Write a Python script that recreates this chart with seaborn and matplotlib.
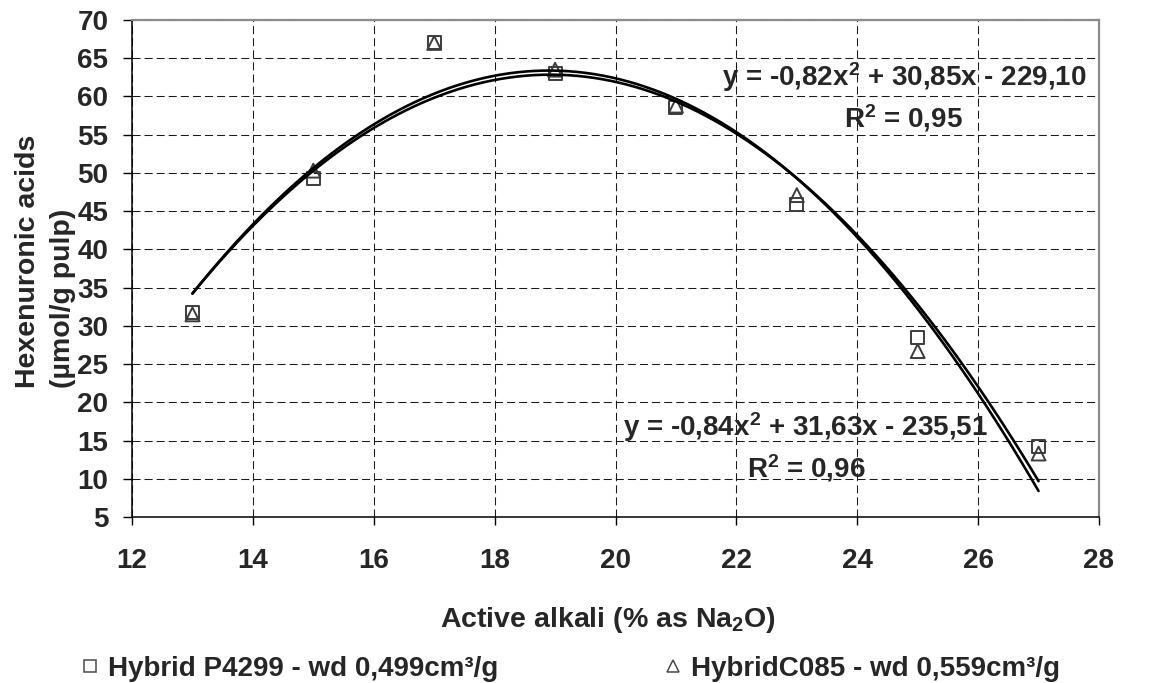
import matplotlib
matplotlib.use("Agg")
import matplotlib.pyplot as plt
import seaborn as sns
from matplotlib.lines import Line2D

# Active alkali charge (% as Na2O) and hexenuronic acid content (µmol/g pulp)
active_alkali = [13, 15, 17, 19, 21, 23, 25, 27]
hexa_p4299 = [31.7, 49.3, 67.1, 63.0, 58.6, 45.9, 28.5, 14.2]
hexa_c085 = [31.5, 50.3, 67.0, 63.5, 58.8, 47.1, 26.7, 13.3]

series_labels = ["Hybrid P4299 - wd 0,499cm³/g", "HybridC085 - wd 0,559cm³/g"]
fit_labels = [
    "y = -0,82x$^2$ + 30,85x - 229,10\nR$^2$ = 0,95",
    "y = -0,84x$^2$ + 31,63x - 235,51\nR$^2$ = 0,96",
]
x_ticks = [12, 14, 16, 18, 20, 22, 24, 26, 28]
y_ticks = [5, 10, 15, 20, 25, 30, 35, 40, 45, 50, 55, 60, 65, 70]

sns.set_style("ticks")
plt.rcParams.update({
    "font.family": ["Liberation Sans", "DejaVu Sans"],
    "font.weight": "bold",
    "axes.labelweight": "bold",
    "mathtext.default": "regular",
    "font.size": 20,
})

fig = plt.figure(figsize=(11.56, 6.83), dpi=100)
ax = fig.add_axes([0.11419, 0.24305, 0.95069 - 0.11419, 0.97072 - 0.24305])

marker_edge = "#3c3c3c"
fit_kws = dict(order=2, ci=None, scatter=False, truncate=True, ax=ax)

# Quadratic trend lines
sns.regplot(x=active_alkali, y=hexa_p4299,
            line_kws=dict(color="black", lw=1.9, zorder=4), **fit_kws)
sns.regplot(x=active_alkali, y=hexa_c085,
            line_kws=dict(color="black", lw=1.9, zorder=4), **fit_kws)

# Measured points
sns.scatterplot(x=active_alkali, y=hexa_p4299, marker="s", s=88,
                facecolor="none", edgecolor=marker_edge, linewidth=1.4,
                zorder=3, ax=ax)
sns.scatterplot(x=active_alkali, y=hexa_c085, marker="^", s=100,
                facecolor="none", edgecolor=marker_edge, linewidth=1.4,
                zorder=3, ax=ax)

ax.set_xlim(12, 28)
ax.set_ylim(5, 70)
ax.set_xticks(x_ticks)
ax.set_yticks(y_ticks)
ax.grid(True, color="#1a1a1a", lw=0.75, linestyle=(0, (7.7, 3.9)))
ax.set_axisbelow(True)

for side in ("left", "bottom"):
    ax.spines[side].set_color("black")
    ax.spines[side].set_linewidth(1.1)
for side in ("top", "right"):
    ax.spines[side].set_visible(True)
    ax.spines[side].set_color("#8c8c8c")
    ax.spines[side].set_linewidth(1.6)

ax.tick_params(axis="x", direction="out", length=6, width=1, pad=16.5,
               labelsize=20, color="black")
ax.tick_params(axis="y", direction="out", length=6.5, width=1, pad=10.5,
               labelsize=20, color="black")
for lab in ax.get_xticklabels() + ax.get_yticklabels():
    lab.set_fontweight("bold")

ax.set_xlabel("Active alkali (% as Na$_2$O)", fontsize=20.5, fontweight="bold")
ax.xaxis.set_label_coords(0.4917, -0.177)
ax.set_ylabel("Hexenuronic acids\n(µmol/g pulp)", fontsize=20.5,
              fontweight="bold", ha="left", multialignment="left",
              linespacing=1.45)
ax.yaxis.set_label_coords(-0.058, 0.26)

# Fitted equations
ax.text(24.77, 59.9, fit_labels[0], ha="center", va="center",
        multialignment="center", fontsize=20, fontweight="bold",
        linespacing=1.35, zorder=5)
ax.text(23.15, 14.15, fit_labels[1], ha="center", va="center",
        multialignment="center", fontsize=20, fontweight="bold",
        linespacing=1.35, zorder=5)

handles = [
    Line2D([], [], linestyle="none", marker="s", markersize=9,
           markerfacecolor="none", markeredgecolor="#4a4a4a", markeredgewidth=1.1),
    Line2D([], [], linestyle="none", marker="^", markersize=9,
           markerfacecolor="none", markeredgecolor="#4a4a4a", markeredgewidth=1.1),
]
leg = fig.legend(handles, series_labels, loc="center left",
                 bbox_to_anchor=(0.0683, 0.021), ncol=2, frameon=False,
                 borderaxespad=0, borderpad=0, handlelength=0.8,
                 handletextpad=0.25, columnspacing=5.9,
                 prop=dict(family=["Liberation Sans", "DejaVu Sans"],
                           weight="bold", size=20))

fig.savefig("out.png", dpi=100)
